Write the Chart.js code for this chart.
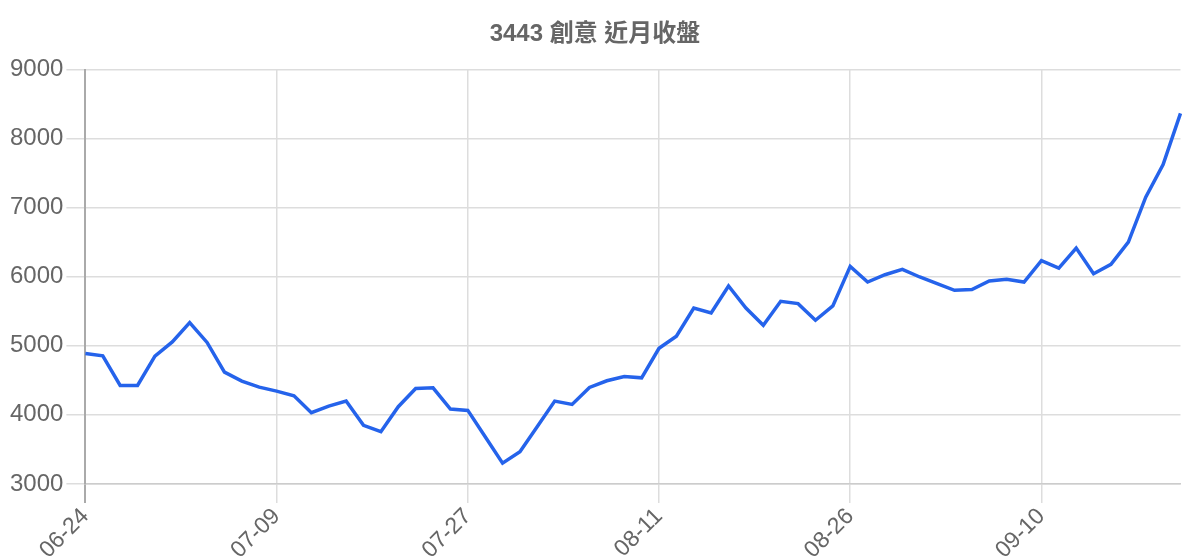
<!DOCTYPE html>
<html>
<head>
<meta charset="utf-8">
<script src="https://cdn.jsdelivr.net/npm/chart.js@4"></script>
<style>
  html, body { margin: 0; padding: 0; background: #fff; }
  #wrap { width: 1200px; height: 560px; position: relative; }
</style>
</head>
<body>
<div id="wrap"><canvas id="c"></canvas></div>
<script>
const chartTitle = '3443 創意 近月收盤';
const dates = [
  '06-24','06-25','06-26','06-27','06-28','07-01','07-02','07-03','07-04','07-05','07-08',
  '07-09','07-10','07-11','07-12','07-15','07-16','07-17','07-18','07-19','07-22','07-23',
  '07-27','07-29','07-30','07-31','08-01','08-02','08-05','08-06','08-07','08-08','08-09',
  '08-11','08-12','08-13','08-14','08-15','08-18','08-19','08-20','08-21','08-22','08-25',
  '08-26','08-27','08-28','08-29','09-01','09-02','09-03','09-04','09-05','09-08','09-09',
  '09-10','09-11','09-12','09-15','09-16','09-17','09-18','09-19','09-22'
];
const closePrices = [
  4890, 4855, 4427, 4427, 4850, 5057, 5337, 5050, 4619, 4489, 4402,
  4344, 4277, 4031, 4128, 4200, 3848, 3756, 4118, 4383, 4392, 4084,
  4065, 3682, 3300, 3467, 3830, 4200, 4152, 4398, 4494, 4557, 4537,
  4965, 5140, 5549, 5477, 5867, 5549, 5299, 5646, 5612, 5371, 5578,
  6152, 5925, 6031, 6108, 5998, 5903, 5805, 5815, 5939, 5964, 5925,
  6234, 6127, 6416, 6046, 6181, 6503, 7154, 7626, 8368
];
const labelEvery = 11;
const yMin = 3000, yMax = 9000, yStep = 1000;

const fontFamily = "'Liberation Sans', Arial, 'Noto Sans CJK TC', sans-serif";
Chart.defaults.font.family = fontFamily;
Chart.defaults.color = '#666';

new Chart(document.getElementById('c'), {
  type: 'line',
  data: {
    labels: dates,
    datasets: [{
      data: closePrices,
      borderColor: '#2563eb',
      backgroundColor: '#2563eb',
      borderWidth: 3.5,
      pointRadius: 0,
      tension: 0,
      fill: false
    }]
  },
  options: {
    responsive: true,
    maintainAspectRatio: false,
    animation: false,
    layout: { padding: { top: 8, right: 17, left: 7, bottom: -4 } },
    plugins: {
      legend: { display: false },
      tooltip: { enabled: false },
      title: {
        display: true,
        text: chartTitle,
        color: '#666',
        font: { size: 24, weight: 'bold', family: fontFamily },
        padding: { top: 12, bottom: 21 }
      }
    },
    scales: {
      x: {
        type: 'category',
        ticks: {
          autoSkip: false,
          maxRotation: 45,
          minRotation: 45,
          padding: 0,
          color: '#666',
          font: { size: 23 },
          callback: function (val, idx) {
            return idx % labelEvery === 0 ? this.getLabelForValue(val) : '';
          }
        },
        grid: {
          color: (ctx) => (ctx.index === 0 ? '#aaaaaa' : (ctx.index % labelEvery === 0 ? '#dddddd' : 'rgba(0,0,0,0)')),
          lineWidth: (ctx) => (ctx.index === 0 ? 2 : 1.5),
          tickLength: 19
        },
        border: { color: '#cccccc', width: 1.5 }
      },
      y: {
        min: yMin,
        max: yMax,
        ticks: {
          stepSize: yStep,
          padding: 3,
          color: '#666',
          font: { size: 24 },
          callback: (v) => String(v)
        },
        grid: {
          color: '#dddddd',
          lineWidth: 1.5,
          tickLength: 19
        },
        border: { color: '#aaaaaa', width: 2 }
      }
    }
  }
});
</script>
</body>
</html>
